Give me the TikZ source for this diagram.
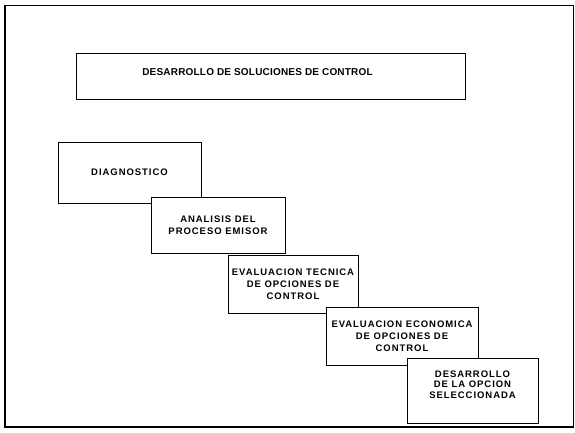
\documentclass[tikz,border=0pt]{standalone}
\usepackage{fontspec}
\setmainfont{Liberation Sans}
\newfontfamily\boxfont[LetterSpace=10]{Liberation Sans}
\newfontfamily\titlefont[LetterSpace=2]{Liberation Sans}
\begin{document}
\begin{tikzpicture}[x=1pt,y=-1pt,
  stepbox/.style={draw=black, line width=0.9pt, fill=white, rectangle, inner sep=0pt,
    align=center, font=\boxfont\bfseries\fontsize{9.5}{11.8}\selectfont},
  titlebox/.style={draw=black, line width=0.9pt, fill=white, rectangle, inner sep=0pt,
    font=\titlefont\bfseries\fontsize{10}{12}\selectfont}]
\useasboundingbox (0,0) rectangle (575,432);
% outer frame
\draw[line width=0.9pt] (5,5) rectangle (573,427);
\draw[line width=1.8pt] (5,5) -- (5,427) -- (573,427);
% title
\node[titlebox, minimum width=389pt, minimum height=46pt] (title) at (270.5,76) {\hspace*{-26pt}\raisebox{4pt}[\height][\depth]{DESARROLLO DE SOLUCIONES DE CONTROL}};
% steps
\node[stepbox, minimum width=143pt, minimum height=61pt] (diag) at (129.5,172.5) {DIAGNOSTICO};
\node[stepbox, minimum width=134pt, minimum height=56pt] (anal) at (218,225) {ANALISIS DEL\\PROCESO EMISOR};
\node[stepbox, minimum width=130pt, minimum height=58pt] (tec) at (293,284) {EVALUACION TECNICA\\DE OPCIONES DE\\CONTROL};
\node[stepbox, minimum width=152pt, minimum height=58pt] (eco) at (402,336) {EVALUACION ECONOMICA\\DE OPCIONES DE\\CONTROL};
\node[stepbox, minimum width=131pt, minimum height=65pt] (des) at (472.5,390.5) {\raisebox{5pt}[\height][\depth]{\begin{tabular}{@{}c@{}}DESARROLLO\\[-1pt]DE LA OPCION\\[-1pt]SELECCIONADA\end{tabular}}};
\end{tikzpicture}
\end{document}
